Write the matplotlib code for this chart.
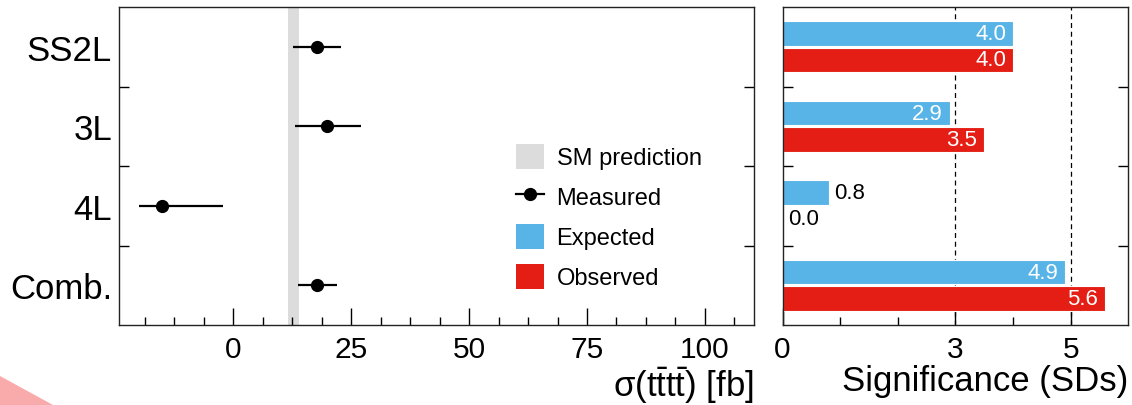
import numpy as np
import matplotlib.pyplot as plt
from matplotlib.patches import Patch, Polygon
from matplotlib.lines import Line2D

plt.rcParams['font.family'] = ['Liberation Sans', 'DejaVu Sans']
plt.rcParams['mathtext.fontset'] = 'custom'
plt.rcParams['mathtext.rm'] = 'Liberation Sans'
plt.rcParams['mathtext.it'] = 'Liberation Sans:italic'

# ---------- data ----------
channels = ["SS2L", "3L", "4L", "Comb."]
xsec = [17.7, 19.8, -15.0, 17.7]          # measured sigma(tttt) [fb]
xsec_lo = [5.0, 6.7, 5.0, 3.9]            # lower uncertainty
xsec_hi = [5.1, 7.4, 12.8, 4.4]           # upper uncertainty
sm_lo, sm_hi = 11.6, 13.9                 # SM prediction band [fb]
sig_expected = [4.0, 2.9, 0.8, 4.9]
sig_observed = [4.0, 3.5, 0.0, 5.6]

blue = "#58b4e6"
red = "#e41e14"
grey = "#dcdcdc"

fig = plt.figure(figsize=(11.32, 4.06), dpi=100)
ax1 = fig.add_axes([0.1051, 0.197, 0.5610, 0.7833])
ax2 = fig.add_axes([0.6913, 0.197, 0.3054, 0.7833])

ypos = np.arange(len(channels))

# ---------- left: cross sections ----------
ax1.axvspan(sm_lo, sm_hi, color=grey, lw=0, zorder=1)
ax1.errorbar(xsec, ypos, xerr=[xsec_lo, xsec_hi], fmt='o', color='black',
             ms=8.5, elinewidth=1.6, capsize=0, zorder=3)
ax1.set_xlim(-24.2, 110.4)
ax1.set_ylim(3.5, -0.5)
ax1.set_xticks([0, 25, 50, 75, 100])
ax1.set_xticks(np.arange(-18.75, 110, 6.25), minor=True)
ax1.set_yticks(ypos)
ax1.set_yticklabels(channels, fontsize=25)
ax1.set_yticks(ypos[:-1] + 0.5, minor=True)
ax1.tick_params(axis='x', which='major', direction='in', length=12, width=1,
                labelsize=21.5, pad=7)
ax1.tick_params(axis='x', which='minor', direction='in', length=6, width=1)
ax1.tick_params(axis='y', which='major', length=0, pad=5)
ax1.tick_params(axis='y', which='minor', direction='in', length=7, width=1,
                left=True, right=True)
ax1.set_xlabel(r"σ($\mathrm{t\bar{t}t\bar{t}}$) [fb]", fontsize=25,
               loc='right', labelpad=1)

handles = [Patch(facecolor=grey, edgecolor='none'),
           Line2D([], [], color='black', marker='o', ms=8.5, lw=1.6),
           Patch(facecolor=blue, edgecolor='none'),
           Patch(facecolor=red, edgecolor='none')]
labels = ["SM prediction", "Measured", "Expected", "Observed"]
ax1.legend(handles, labels, loc='upper left', bbox_to_anchor=(0.611, 0.6),
           frameon=False, fontsize=17, handlelength=1.15, handleheight=1.25,
           handletextpad=0.55, labelspacing=0.62, borderaxespad=0)

# ---------- right: significances ----------
h = 0.31
off = 0.165
ax2.barh(ypos - off, sig_expected, height=h, color=blue, edgecolor='white',
         lw=0.8, zorder=2)
ax2.barh(ypos + off, sig_observed, height=h, color=red, edgecolor='white',
         lw=0.8, zorder=2)
for xv in [3, 5]:
    ax2.axvline(xv, color='black', ls=(0, (4, 3)), lw=0.9, zorder=1)

for vals, dy in [(sig_expected, -off), (sig_observed, off)]:
    for y, v in zip(ypos, vals):
        if v > 1:
            ax2.annotate(f"{v:.1f}", (v, y + dy), xytext=(-5, 0),
                         textcoords='offset points', ha='right', va='center',
                         color='white', fontsize=16, zorder=3)
        else:
            ax2.annotate(f"{v:.1f}", (v, y + dy), xytext=(4, 0),
                         textcoords='offset points', ha='left', va='center',
                         color='black', fontsize=16, zorder=3)

ax2.set_xlim(0, 6)
ax2.set_ylim(3.5, -0.5)
ax2.set_xticks([0, 3, 5])
ax2.set_xticks([1, 2, 4], minor=True)
ax2.set_yticks([])
ax2.set_yticks(ypos[:-1] + 0.5, minor=True)
ax2.tick_params(axis='x', which='major', direction='in', length=12, width=1,
                labelsize=21.5, pad=7)
ax2.tick_params(axis='x', which='minor', direction='in', length=6, width=1)
ax2.tick_params(axis='y', which='minor', direction='in', length=7, width=1,
                left=True, right=True, labelleft=False)
ax2.set_xlabel("Significance (SDs)", fontsize=25, loc='right', labelpad=1)

for ax in (ax1, ax2):
    for s in ax.spines.values():
        s.set_linewidth(1.0)
        s.set_color('#222222')

# decorative corner shape
fig.patches.append(Polygon([[0, 1 - 377 / 406], [53 / 1132, 0], [0, 0]],
                           closed=True, transform=fig.transFigure,
                           facecolor='#f9aaaa', edgecolor='none'))

fig.savefig("out.png", dpi=100)
